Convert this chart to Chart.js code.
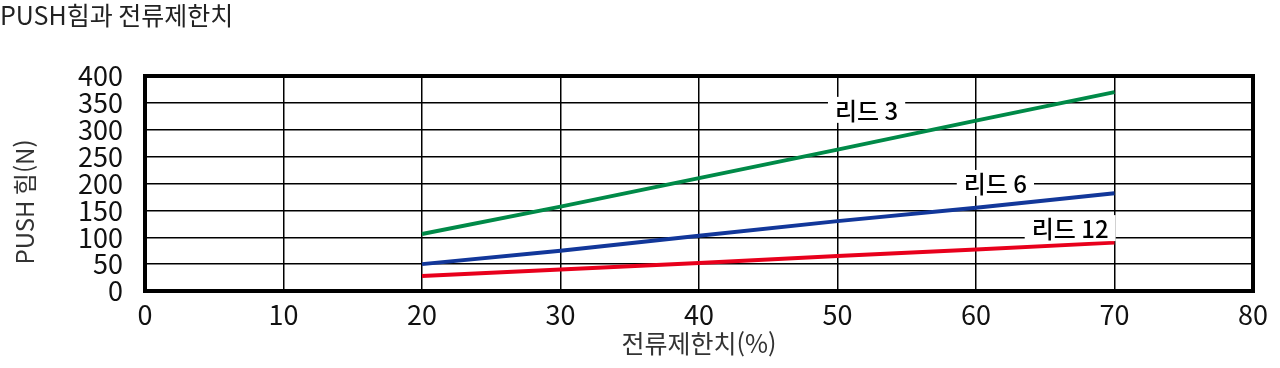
<!DOCTYPE html>
<html lang="ko">
<head>
<meta charset="utf-8">
<title>PUSH힘과 전류제한치</title>
<script src="https://cdn.jsdelivr.net/npm/chart.js@4/dist/chart.umd.min.js"></script>
<style>
    html, body { margin: 0; padding: 0; background: #fff; }
    #wrap { position: relative; width: 1280px; height: 368px; }
</style>
</head>
<body>
<div id="wrap"><canvas id="pushChart" width="1280" height="368"></canvas></div>
<script>
// Data
const CURRENT_LIMIT = [20, 30, 40, 50, 60, 70];   // 전류제한치 (%)
const LEAD3_FORCE = [106, 157, 210, 263, 317, 370];
const LEAD6_FORCE = [50, 75, 103, 130, 155, 182];
const LEAD12_FORCE = [28, 40, 52, 65, 77, 90];

const SERIES_NAMES = ['리드 3', '리드 6', '리드 12'];
const SERIES_COLORS = ['#008a48', '#12379a', '#e8001c'];

// inline label anchors, in data units (x %, y N)
const LABEL_X = [52.1, 61.4, 66.8];
const LABEL_Y = [337, 201, 117];

const X_TICKS = [0, 10, 20, 30, 40, 50, 60, 70, 80];
const Y_TICKS = [0, 50, 100, 150, 200, 250, 300, 350, 400];

const TITLE = 'PUSH힘과 전류제한치';
const X_TITLE = '전류제한치(%)';
const Y_TITLE = 'PUSH 힘(N)';

const FONT = "'Noto Sans CJK KR', 'Noto Sans', sans-serif";

function toPoints(values) {
    return CURRENT_LIMIT.map((x, i) => ({ x: x, y: values[i] }));
}

// Titles, thick frame and boxed line labels
const decorPlugin = {
    id: 'decor',
    afterDatasetsDraw(chart) {
        const ctx = chart.ctx;
        const area = chart.chartArea;
        const xs = chart.scales.x;
        const ys = chart.scales.y;

        // frame
        ctx.save();
        ctx.strokeStyle = '#000';
        ctx.lineWidth = 4;
        ctx.strokeRect(area.left, area.top, area.right - area.left, area.bottom - area.top);

        // line labels with white background
        ctx.font = '500 24px ' + FONT;
        ctx.textAlign = 'center';
        ctx.textBaseline = 'middle';
        SERIES_NAMES.forEach((name, i) => {
            const cx = xs.getPixelForValue(LABEL_X[i]);
            const cy = ys.getPixelForValue(LABEL_Y[i]);
            const w = ctx.measureText(name).width + 14;
            ctx.fillStyle = '#fff';
            ctx.fillRect(cx - w / 2, cy - 13, w, 26);
            ctx.fillStyle = '#000';
            ctx.fillText(name, cx, cy + 1);
        });

        // chart title
        ctx.fillStyle = '#222';
        ctx.textAlign = 'left';
        ctx.textBaseline = 'middle';
        ctx.font = '25px ' + FONT;
        ctx.fillText(TITLE, 0, 15);

        // x title
        ctx.fillStyle = '#333';
        ctx.textAlign = 'center';
        ctx.fillText(X_TITLE, (area.left + area.right) / 2, 343);

        // y title
        ctx.font = '24px ' + FONT;
        ctx.translate(25, 202);
        ctx.rotate(-Math.PI / 2);
        ctx.fillText(Y_TITLE, 0, 0);
        ctx.restore();
    }
};

const ctx = document.getElementById('pushChart').getContext('2d');
const pushChart = new Chart(ctx, {
    type: 'line',
    data: {
        datasets: [LEAD3_FORCE, LEAD6_FORCE, LEAD12_FORCE].map((vals, i) => ({
            label: SERIES_NAMES[i],
            data: toPoints(vals),
            borderColor: SERIES_COLORS[i],
            backgroundColor: SERIES_COLORS[i],
            borderWidth: 4,
            pointRadius: 0,
            tension: 0,
            fill: false
        }))
    },
    options: {
        responsive: false,
        animation: false,
        layout: { padding: { left: 0, top: 76, right: 27, bottom: 0 } },
        plugins: {
            legend: { display: false },
            tooltip: { enabled: false }
        },
        scales: {
            x: {
                type: 'linear',
                min: 0,
                max: 80,
                afterBuildTicks: scale => { scale.ticks = X_TICKS.map(v => ({ value: v })); },
                afterFit: scale => { scale.height = 77; },
                grid: { color: '#000', lineWidth: 1.5, drawTicks: false },
                border: { display: false },
                ticks: {
                    autoSkip: false,
                    maxRotation: 0,
                    padding: 8,
                    color: '#111',
                    font: { family: FONT, size: 27 }
                }
            },
            y: {
                min: 0,
                max: 400,
                afterBuildTicks: scale => { scale.ticks = Y_TICKS.map(v => ({ value: v })); },
                afterFit: scale => { scale.width = 145; },
                grid: { color: '#000', lineWidth: 1.5, drawTicks: false },
                border: { display: false },
                ticks: {
                    autoSkip: false,
                    padding: 22,
                    color: '#111',
                    font: { family: FONT, size: 27 }
                }
            }
        }
    },
    plugins: [decorPlugin]
});
</script>
</body>
</html>
